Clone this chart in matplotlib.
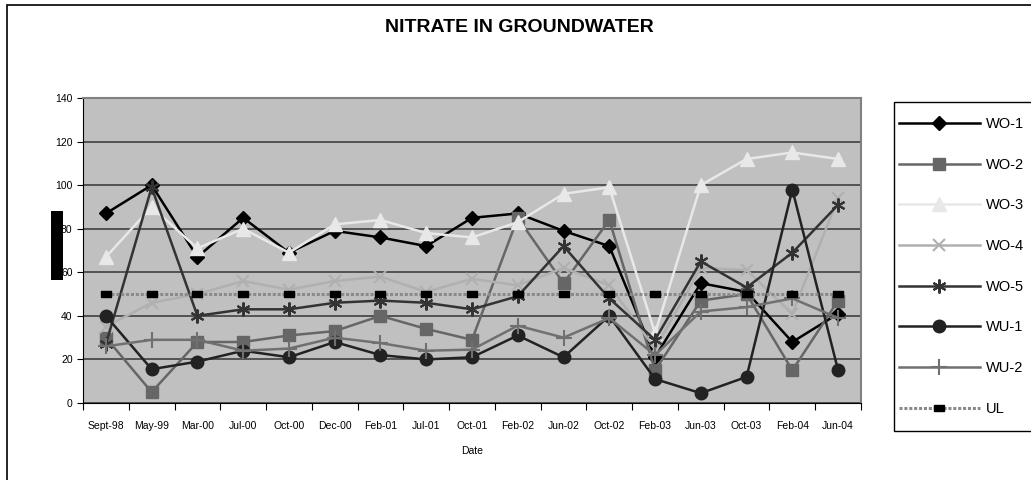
import matplotlib.pyplot as plt
from matplotlib.patches import Rectangle

# dates on the x axis
dates = ['Sept-98', 'May-99', 'Mar-00', 'Jul-00', 'Oct-00', 'Dec-00', 'Feb-01', 'Jul-01',
         'Oct-01', 'Feb-02', 'Jun-02', 'Oct-02', 'Feb-03', 'Jun-03', 'Oct-03', 'Feb-04', 'Jun-04']

# nitrate values
wo1 = [87, 100, 67, 85, 69, 79, 76, 72, 85, 87, 79, 72, 21, 55, 51, 28, 41]
wo2 = [30, 5, 28, 28, 31, 33, 40, 34, 29, 85, 55, 84, 15, 47, 50, 15, 47]
wo3 = [67, 90, 71, 80, 69, 82, 84, 78, 76, 83, 96, 99, 32, 100, 112, 115, 112]
wo4 = [35, 46, 50, 56, 52, 56, 58, 51, 57, 54, 62, 54, 25, 62, 61, 41, 94]
wo5 = [27, 99, 40, 43, 43, 46, 47, 46, 43, 49, 72, 48, 29, 65, 53, 69, 91]
wu1 = [40, 15.5, 19, 24, 21, 28, 22, 20, 21, 31, 21, 40, 11, 4.5, 12, 98, 15]
wu2 = [26, 29, 29, 24, 25, 30, 27.5, 24, 24.5, 35.5, 30, 39, 22, 42, 44, 48, 39]
ul = [50] * len(dates)

labels = ['WO-1', 'WO-2', 'WO-3', 'WO-4', 'WO-5', 'WU-1', 'WU-2', 'UL']

fig = plt.figure(figsize=(10.31, 4.8), dpi=100)
plt.rcParams['font.family'] = ['Liberation Sans', 'DejaVu Sans']

# outer chart frame, blacked-out y label, legend box (drawn under the legend)
fig.patches.append(Rectangle((7 / 1031, -0.05), 1.1, 0.05 + 475 / 480, transform=fig.transFigure,
                             fill=False, edgecolor='black', linewidth=1.2, zorder=1))
fig.patches.append(Rectangle((51 / 1031, 200 / 480), 12 / 1031, 69 / 480, transform=fig.transFigure,
                             facecolor='black', edgecolor='none', zorder=1))
fig.patches.append(Rectangle((894 / 1031, 49 / 480), 0.2, 329 / 480, transform=fig.transFigure,
                             facecolor='white', edgecolor='black', linewidth=1.0, zorder=1))

ax = fig.add_axes([83 / 1031, 77 / 480, 778 / 1031, 305 / 480])
ax.set_facecolor('#c0c0c0')
x = list(range(len(dates)))

ax.plot(x, wo1, color='black', marker='D', markersize=7, lw=1.8, label=labels[0])
ax.plot(x, wo2, color='#666666', marker='s', markersize=8.5, lw=1.8, label=labels[1])
ax.plot(x, wo3, color='#e8e8e8', marker='^', markersize=9.5, lw=1.8, label=labels[2])
ax.plot(x, wo4, color='#b0b0b0', marker='x', markersize=8, mew=1.5, lw=1.8, label=labels[3])
ax.plot(x, wo5, color='#333333', marker=(6, 2, 0), markersize=10, mew=1.5, lw=1.8, label=labels[4])
ax.plot(x, wu1, color='#222222', marker='o', markersize=9, lw=1.8, label=labels[5])
ax.plot(x, wu2, color='#707070', marker='+', markersize=11, mew=1.5, lw=1.8, label=labels[6])
rect = [(-1.8, -1), (1.8, -1), (1.8, 1), (-1.8, 1), (-1.8, -1)]
ax.plot(x, ul, color='#8a8a8a', ls=(0, (1, 0.6)), lw=2.2, marker=rect, markersize=6.5,
        mfc='black', mec='black', label=labels[7])

ax.set_ylim(0, 140)
ax.set_xlim(-0.5, len(dates) - 0.5)
ax.set_yticks(range(0, 141, 20))
ax.yaxis.grid(True, color='#404040', lw=1.2)
ax.set_axisbelow(True)
ax.tick_params(axis='y', labelsize=7.5, length=4, direction='out')

ax.set_xticks([i - 0.5 for i in range(len(dates) + 1)])
ax.set_xticklabels([])
ax.set_xticks(x, minor=True)
ax.set_xticklabels(dates, minor=True, fontsize=7.5)
ax.tick_params(axis='x', which='major', length=5, direction='out')
ax.tick_params(axis='x', which='minor', length=0, pad=13)
ax.set_xlabel('Date', fontsize=7.5, labelpad=11)

for s in ['top', 'right']:
    ax.spines[s].set_color('#808080')
    ax.spines[s].set_linewidth(1.5)
for s in ['left', 'bottom']:
    ax.spines[s].set_color('black')

fig.text(0.504, 0.943, 'NITRATE IN GROUNDWATER', ha='center', va='center',
         fontsize=14, fontweight='bold')

handles, _ = ax.get_legend_handles_labels()
leg = fig.legend(handles, labels, loc='upper left', bbox_to_anchor=(899 / 1031, 363 / 480),
                 fontsize=10.5, handlelength=5.55, handletextpad=0.41, labelspacing=1.83,
                 borderaxespad=0, borderpad=0, frameon=False)
leg.set_zorder(10)

fig.savefig('out.png', dpi=100)
